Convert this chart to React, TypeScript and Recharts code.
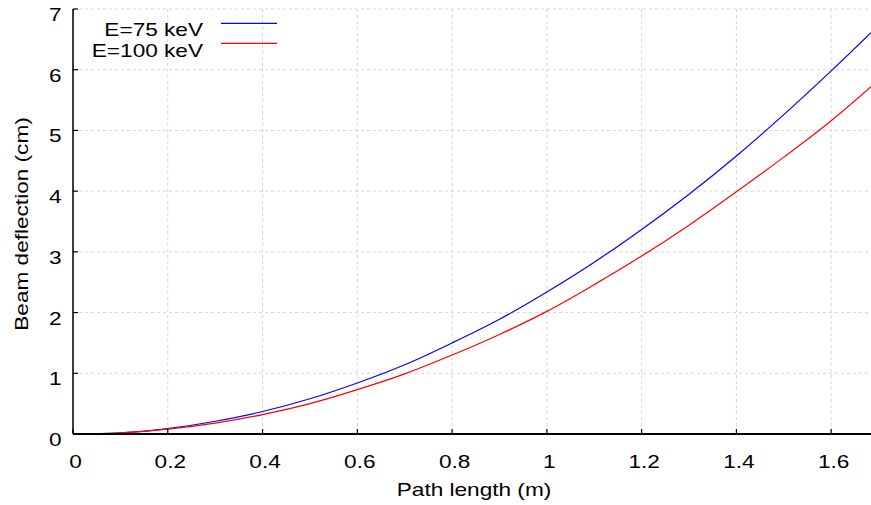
import React from 'react';
import { LineChart, Line, XAxis, YAxis, CartesianGrid, Legend } from 'recharts';

const pathLength = [0, 0.1, 0.2, 0.3, 0.4, 0.5, 0.6, 0.7, 0.8, 0.9, 1.0, 1.1, 1.2, 1.3, 1.4, 1.5, 1.6, 1.684];
const deflection75 = [0, 0.02, 0.09, 0.21, 0.37, 0.58, 0.84, 1.14, 1.5, 1.89, 2.34, 2.83, 3.37, 3.95, 4.58, 5.26, 5.98, 6.61];
const deflection100 = [0, 0.02, 0.08, 0.18, 0.32, 0.5, 0.73, 0.99, 1.3, 1.64, 2.02, 2.46, 2.93, 3.44, 3.99, 4.56, 5.16, 5.72];
const xTicks = [0, 0.2, 0.4, 0.6, 0.8, 1, 1.2, 1.4, 1.6];
const yTicks = [0, 1, 2, 3, 4, 5, 6, 7];
const seriesNames = ['E=75 keV', 'E=100 keV'];
const seriesColors = ['#0000ff', '#ff0000'];
const xTitle = 'Path length (m)';
const yTitle = 'Beam deflection (cm)';

const data = pathLength.map((x, i) => ({ x, e75: deflection75[i], e100: deflection100[i] }));

const FONT = '"Liberation Sans", Arial, Helvetica, sans-serif';
const SX = 1.19;
const FS = 19;

const XTick = (props: any) => {
  const { x, y, payload } = props;
  return (
    <g>
      <line x1={x} x2={x} y1={y} y2={y - 5} stroke="#000" strokeWidth={1.2} />
      <text transform={`translate(${x + 2.5},${y + 34}) scale(${SX},1)`} textAnchor="middle" fontSize={FS} fontFamily={FONT} fill="#000">
        {payload.value}
      </text>
    </g>
  );
};

const TopTick = (props: any) => {
  const { x, y } = props;
  return <line x1={x} x2={x} y1={y} y2={y + 5} stroke="#000" strokeWidth={1.2} />;
};

const YTick = (props: any) => {
  const { x, y, payload } = props;
  return (
    <g>
      <line x1={x} x2={x + 5} y1={y} y2={y} stroke="#000" strokeWidth={1.2} />
      <text transform={`translate(${x - 11.5},${y + 12}) scale(${SX},1)`} textAnchor="end" fontSize={FS} fontFamily={FONT} fill="#000">
        {payload.value}
      </text>
    </g>
  );
};

const XTitle = () => (
  <text transform={`translate(474,496) scale(${SX},1)`} textAnchor="middle" fontSize={FS} fontFamily={FONT} fill="#000">
    {xTitle}
  </text>
);

const YTitle = () => (
  <text transform={`translate(28,224) rotate(-90) scale(${SX},1)`} textAnchor="middle" fontSize={FS} fontFamily={FONT} fill="#000">
    {yTitle}
  </text>
);

const LegendBox = () => (
  <svg width={300} height={62} style={{ display: 'block' }}>
    {seriesNames.map((name, i) => (
      <g key={name}>
        <text transform={`translate(203,${36 + i * 20.5}) scale(${SX},1)`} textAnchor="end" fontSize={FS} fontFamily={FONT} fill="#000">
          {name}
        </text>
        <line x1={221} x2={277} y1={23.3 + i * 20} y2={23.3 + i * 20} stroke={seriesColors[i]} strokeWidth={1.2} />
      </g>
    ))}
  </svg>
);

export default function App() {
  return (
    <div style={{ position: 'absolute', left: 0, top: 0, background: '#fff' }}>
      <LineChart width={871} height={505} data={data} margin={{ top: 9, right: 0, bottom: 0, left: 0 }}>
        <CartesianGrid stroke="#d4d4d4" strokeDasharray="3 3" strokeWidth={1} horizontalValues={yTicks} verticalValues={xTicks} />
        <XAxis
          dataKey="x"
          type="number"
          domain={[0, 1.684]}
          allowDataOverflow
          ticks={xTicks}
          interval={0}
          height={71}
          tickSize={0}
          tickMargin={0}
          tickLine={false}
          tick={<XTick />}
          axisLine={{ stroke: '#000', strokeWidth: 2 }}
          label={() => <XTitle />}
        />
        <XAxis
          xAxisId="top"
          orientation="top"
          dataKey="x"
          type="number"
          domain={[0, 1.684]}
          allowDataOverflow
          ticks={xTicks}
          interval={0}
          height={0}
          tickSize={0}
          tickMargin={0}
          tickLine={false}
          tick={<TopTick />}
          axisLine={{ stroke: '#000', strokeWidth: 2 }}
        />
        <YAxis
          type="number"
          domain={[0, 7]}
          ticks={yTicks}
          interval={0}
          width={73}
          tickSize={0}
          tickMargin={0}
          tickLine={false}
          tick={<YTick />}
          axisLine={{ stroke: '#000', strokeWidth: 1.5 }}
          label={() => <YTitle />}
        />
        <Legend
          layout="horizontal"
          verticalAlign="middle"
          align="center"
          content={() => <LegendBox />}
          wrapperStyle={{ position: 'absolute', top: 0, left: 0, width: 300, height: 62 }}
        />
        <Line type="monotone" dataKey="e75" name={seriesNames[0]} stroke={seriesColors[0]} strokeWidth={1.2} dot={false} isAnimationActive={false} />
        <Line type="monotone" dataKey="e100" name={seriesNames[1]} stroke={seriesColors[1]} strokeWidth={1.2} dot={false} isAnimationActive={false} />
      </LineChart>
    </div>
  );
}
